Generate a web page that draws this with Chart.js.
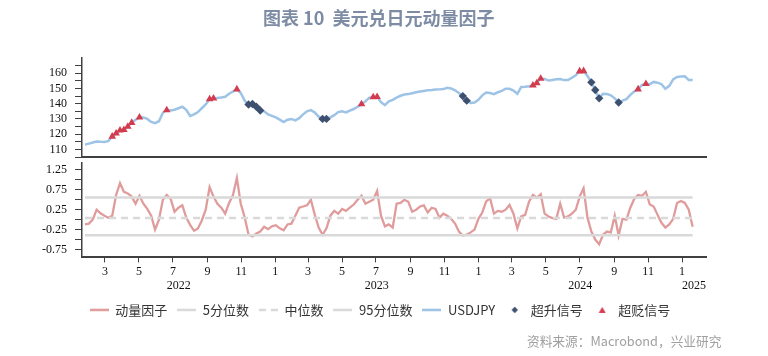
<!DOCTYPE html>
<html><head><meta charset="utf-8">
<script src="https://cdn.jsdelivr.net/npm/chart.js@4.4.1/dist/chart.umd.min.js"></script>
<style>
html,body{margin:0;padding:0;background:#fff}
body{width:768px;height:356px;position:relative;overflow:hidden;font-family:"Noto Sans CJK SC","Noto Sans",sans-serif}
canvas{position:absolute;left:0;top:0}
#title{position:absolute;left:263px;top:5px;height:24px;line-height:24px;font-size:18px;font-weight:bold;color:#7d8ca4;white-space:pre;z-index:3}
#src{position:absolute;left:527px;top:331px;line-height:20px;font-size:12.7px;color:#a0a0a0;white-space:pre;z-index:3}
</style></head>
<body>
<div id="title">图表 10  美元兑日元动量因子</div>
<canvas id="c1" width="768" height="356"></canvas>
<canvas id="c2" width="768" height="356"></canvas>
<div id="src">资料来源：Macrobond，兴业研究</div>
<script>
// ---------- data (weekly readings, first week 2022-01-24) ----------
const firstWeek = '2022-01-24';
const usdjpy = [113.1,113.8,114.5,115.2,115.0,114.9,115.4,118.5,120.5,122.5,
122.8,125.0,127.5,129.5,131.0,131.0,130.0,128.0,127.2,128.5,
134.0,135.8,135.6,136.0,137.0,138.0,136.0,132.0,133.0,134.5,
137.0,139.5,143.0,143.5,143.8,144.0,144.5,146.5,148.0,149.5,
147.0,142.0,139.5,139.8,138.0,135.5,135.0,133.0,132.0,131.0,
129.5,128.0,129.5,130.0,129.0,130.5,133.0,135.0,135.8,134.2,
131.5,130.0,130.0,131.0,132.5,134.5,135.0,134.3,135.5,136.5,
138.0,139.7,141.5,144.0,144.3,144.5,141.0,139.0,141.5,142.5,
144.0,145.2,146.0,146.3,146.9,147.5,148.0,148.4,148.8,149.0,
149.3,149.4,149.6,150.5,150.0,148.8,147.0,145.0,142.0,140.5,
140.8,142.5,145.5,147.3,147.0,146.3,147.5,148.4,149.8,149.8,
148.6,146.5,151.0,151.2,151.5,152.0,153.5,156.5,156.3,155.2,
155.6,156.0,156.2,155.5,155.5,157.0,158.6,161.3,161.5,158.2,
154.0,149.0,143.5,146.5,146.3,145.5,143.5,140.8,142.0,143.0,
145.8,148.0,149.5,152.3,153.0,152.8,154.3,153.8,152.8,149.8,
151.7,156.0,157.5,157.8,158.0,155.5,155.5];
const momentum = [-0.12,-0.10,0.00,0.25,0.16,0.10,0.05,0.10,0.62,0.92,
0.70,0.66,0.58,0.40,0.60,0.40,0.27,0.10,-0.25,0.00,
0.50,0.62,0.52,0.20,0.30,0.36,0.05,-0.13,-0.28,-0.22,
-0.02,0.25,0.82,0.58,0.40,0.30,0.15,0.42,0.62,1.05,
0.40,0.06,-0.38,-0.42,-0.35,-0.30,-0.18,-0.24,-0.17,-0.14,
-0.22,-0.27,-0.12,-0.10,0.10,0.30,0.33,0.36,0.50,0.12,
-0.20,-0.38,-0.22,0.10,0.22,0.15,0.27,0.22,0.30,0.38,
0.50,0.60,0.40,0.45,0.50,0.72,0.10,-0.17,-0.12,-0.20,
0.40,0.42,0.50,0.45,0.20,0.25,0.33,0.36,0.18,0.30,
0.27,0.05,0.15,0.10,0.02,-0.10,-0.30,-0.40,-0.38,-0.32,
-0.25,0.02,0.18,0.46,0.54,0.15,0.22,0.20,0.25,0.37,
0.15,-0.22,0.08,0.12,0.45,0.62,0.55,0.64,0.15,0.08,
0.04,0.02,0.40,0.05,0.08,0.15,0.25,0.58,0.79,0.05,
-0.30,-0.50,-0.62,-0.38,-0.30,-0.32,0.10,-0.40,0.02,0.00,
0.30,0.52,0.62,0.60,0.70,0.38,0.33,0.12,-0.08,-0.20,
-0.12,0.02,0.42,0.47,0.42,0.25,-0.18];
// signal weeks (index into the weekly series)
const upSignalWeeks = [42,43,44,45,61,62,97,98,130,131,132,137];         // 超升信号
const downSignalWeeks = [7,8,9,10,11,12,14,21,32,33,39,71,74,75,115,116,117,127,128,142,144]; // 超贬信号
const pct5 = -0.39, pctMedian = 0.04, pct95 = 0.56;
const seriesNames = ['动量因子','5分位数','中位数','95分位数','USDJPY','超升信号','超贬信号'];
const monthTicks = ['2022-03','2022-05','2022-07','2022-09','2022-11','2023-01','2023-03','2023-05','2023-07','2023-09','2023-11','2024-01','2024-03','2024-05','2024-07','2024-09','2024-11','2025-01'];
const monthLabels = ['3','5','7','9','11','1','3','5','7','9','11','1','3','5','7','9','11','1'];
const yearLabels = ['2022','2023','2024','2025'];
const yTopTicks = [105,110,115,120,125,130,135,140,145,150,155,160,165];
const yTopLabels = ['','110','','120','','130','','140','','150','','160',''];
const yBotTicks = [-0.75,-0.5,-0.25,0,0.25,0.5,0.75,1,1.25];
const yBotLabels = ['-0.75','','-0.25','','0.25','','0.75','','1.25'];

// ---------- helpers ----------
const BASE = Date.UTC(2022,0,1);
function dayNum(s){const p=s.split('-').map(Number);return (Date.UTC(p[0],p[1]-1,p[2]||1)-BASE)/864e5;}
const w0 = dayNum(firstWeek);
const weekX = usdjpy.map((_,i)=>w0+7*i);
const X_MIN = 17.7, X_MAX = 1139;
const yearCenters = yearLabels.map(y=>{
  const a=Math.max(X_MIN,dayNum(y+'-01-01')), b=Math.min(X_MAX,dayNum((+y+1)+'-01-01'));
  return (a+b)/2;
});
const C = {mom:'#e09c9c', grey:'#d9d9d9', fx:'#9dc3e6', up:'#3e5070', down:'#d33b4f', axis:'#404040'};
const serif = {family:'"Liberation Serif","Times New Roman",serif', size:12};

// ---------- top panel ----------
new Chart(document.getElementById('c1'), {
  type:'line',
  data:{datasets:[
    {label:seriesNames[6], data:downSignalWeeks.map(i=>({x:weekX[i],y:usdjpy[i]})), showLine:false,
     pointStyle:'triangle', pointRadius:4.4, backgroundColor:C.down, borderColor:C.down, borderWidth:0, order:0},
    {label:seriesNames[5], data:upSignalWeeks.map(i=>({x:weekX[i],y:usdjpy[i]})), showLine:false,
     pointStyle:'rectRot', pointRadius:4.2, backgroundColor:C.up, borderColor:C.up, borderWidth:0, order:1},
    {label:seriesNames[4], data:weekX.map((x,i)=>({x,y:usdjpy[i]})), borderColor:C.fx, borderWidth:2.5,
     pointRadius:0, tension:0, order:2}
  ]},
  options:{
    responsive:false, animation:false, events:[],
    layout:{padding:{top:58,left:30,right:62,bottom:199}},
    plugins:{legend:{display:false}, tooltip:{enabled:false}},
    scales:{
      x:{type:'linear', min:X_MIN, max:X_MAX, ticks:{display:false}, grid:{display:false, drawTicks:false},
         border:{display:true, color:C.axis, width:2}},
      y:{type:'linear', min:105, max:170,
         afterBuildTicks:s=>{s.ticks=yTopTicks.map(v=>({value:v}));},
         afterFit:s=>{s.width=52;},
         ticks:{callback:(v,i)=>yTopLabels[i], font:serif, color:'#111', padding:8, autoSkip:false},
         grid:{drawOnChartArea:false, drawTicks:true, tickLength:7, color:C.axis, lineWidth:1},
         border:{display:true, color:C.axis, width:1.5}}
    }
  }
});

// ---------- legend symbols ----------
function lineSym(color, dash){
  const c=document.createElement('canvas'); c.width=19; c.height=4;
  const g=c.getContext('2d'); g.strokeStyle=color; g.lineWidth=2.5;
  if(dash) g.setLineDash(dash);
  g.beginPath(); g.moveTo(0,2); g.lineTo(19,2); g.stroke(); return c;
}
function diamondSym(color){
  const c=document.createElement('canvas'); c.width=8; c.height=8;
  const g=c.getContext('2d'); g.fillStyle=color; g.beginPath();
  g.moveTo(4,0.8); g.lineTo(7.2,4); g.lineTo(4,7.2); g.lineTo(0.8,4); g.closePath(); g.fill(); return c;
}
function triSym(color){
  const c=document.createElement('canvas'); c.width=8; c.height=8;
  const g=c.getContext('2d'); g.fillStyle=color; g.beginPath();
  g.moveTo(4,1); g.lineTo(7.5,7); g.lineTo(0.5,7); g.closePath(); g.fill(); return c;
}
const legendSyms = [lineSym(C.mom), lineSym(C.grey), lineSym(C.grey,[7,5]), lineSym(C.grey), lineSym(C.fx), diamondSym(C.up), triSym(C.down)];
// keep the legend row centred where the original places it
const legendSpan = {id:'legendSpan', afterLayout(ch){ if(ch.legend){ ch.legend.left = 54; ch.legend.right = 706; } }};

// ---------- bottom panel ----------
const ends = [weekX[0], weekX[weekX.length-1]];
new Chart(document.getElementById('c2'), {
  type:'line',
  data:{datasets:[
    {label:seriesNames[0], data:weekX.map((x,i)=>({x,y:momentum[i]})), borderColor:C.mom, borderWidth:2.3, pointRadius:0, tension:0, order:3},
    {label:seriesNames[1], data:ends.map(x=>({x,y:pct5})), borderColor:C.grey, borderWidth:2.5, pointRadius:0, order:2},
    {label:seriesNames[2], data:ends.map(x=>({x,y:pctMedian})), borderColor:C.grey, borderWidth:2.5, borderDash:[7,5], pointRadius:0, order:1},
    {label:seriesNames[3], data:ends.map(x=>({x,y:pct95})), borderColor:C.grey, borderWidth:2.5, pointRadius:0, order:0}
  ]},
  plugins:[legendSpan],
  options:{
    responsive:false, animation:false, events:[],
    layout:{padding:{top:163,left:30,right:62,bottom:29.6}},
    plugins:{
      tooltip:{enabled:false},
      legend:{display:true, position:'bottom',
        labels:{usePointStyle:true, pointStyleWidth:19, boxHeight:6, padding:10,
          font:{family:'"Noto Sans CJK SC","Noto Sans",sans-serif', size:13}, color:'#333',
          generateLabels:()=>seriesNames.map((t,i)=>({text:t, pointStyle:legendSyms[i], fillStyle:'#000',
            strokeStyle:'#000', lineWidth:0, hidden:false, datasetIndex:i, fontColor:'#333'}))
        }}
    },
    scales:{
      x:{type:'linear', min:X_MIN, max:X_MAX,
         afterBuildTicks:s=>{s.ticks=monthTicks.map(m=>({value:dayNum(m)}));},
         afterFit:s=>{s.height=21;},
         ticks:{callback:(v,i)=>monthLabels[i], font:serif, color:'#111', padding:2, autoSkip:false, maxRotation:0},
         grid:{drawOnChartArea:false, drawTicks:true, tickLength:5, color:C.axis, lineWidth:1},
         border:{display:true, color:C.axis, width:2}},
      x2:{type:'linear', axis:'x', position:'bottom', min:X_MIN, max:X_MAX,
         afterBuildTicks:s=>{s.ticks=yearCenters.map(v=>({value:v}));},
         afterFit:s=>{s.height=15;},
         ticks:{callback:(v,i)=>yearLabels[i], font:serif, color:'#111', padding:0, autoSkip:false, maxRotation:0},
         grid:{display:false, drawTicks:false}, border:{display:false}},
      y:{type:'linear', min:-0.95, max:1.425,
         afterBuildTicks:s=>{s.ticks=yBotTicks.map(v=>({value:v}));},
         afterFit:s=>{s.width=52;},
         ticks:{callback:(v,i)=>yBotLabels[i], font:serif, color:'#111', padding:8, autoSkip:false},
         grid:{drawOnChartArea:false, drawTicks:true, tickLength:7, color:C.axis, lineWidth:1},
         border:{display:true, color:C.axis, width:1.5}}
    }
  }
});
</script>
</body></html>
